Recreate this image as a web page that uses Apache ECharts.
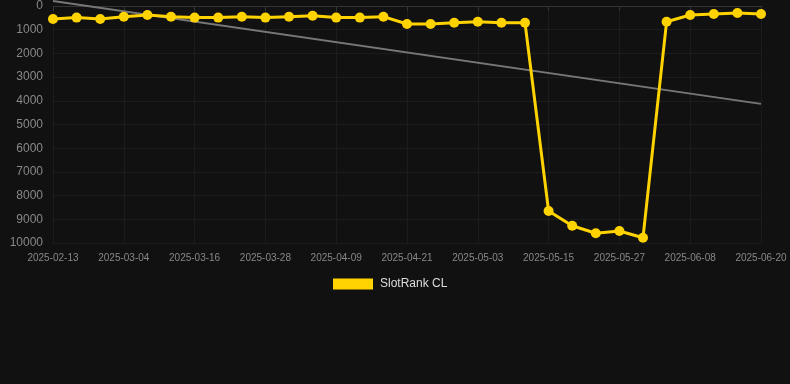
<!DOCTYPE html>
<html>
<head>
<meta charset="utf-8">
<script src="https://cdn.jsdelivr.net/npm/echarts@6/dist/echarts.min.js"></script>
<style>
html,body{margin:0;padding:0;background:#111111;}
#chart{width:790px;height:384px;}
</style>
</head>
<body>
<div id="chart"></div>
<script>
const categories = [
  '2025-02-13','2025-02-20','2025-02-26','2025-03-04','2025-03-08','2025-03-12','2025-03-16',
  '2025-03-20','2025-03-24','2025-03-28','2025-04-01','2025-04-05','2025-04-09','2025-04-13',
  '2025-04-17','2025-04-21','2025-04-25','2025-04-29','2025-05-03','2025-05-07','2025-05-11',
  '2025-05-15','2025-05-19','2025-05-23','2025-05-27','2025-05-31','2025-06-04','2025-06-08',
  '2025-06-12','2025-06-16','2025-06-20'
];
const rankValues = [
  550, 490, 550, 450, 380, 450, 490, 490, 450, 490, 450,
  410, 490, 490, 450, 760, 760, 705, 662, 705, 705,
  8650, 9270, 9590, 9494, 9776,
  662, 380, 338, 295, 338
];
const trendStart = -210;
const trendEnd = 4130;
const trendValues = categories.map((c, i) => i === 0 ? trendStart : (i === categories.length - 1 ? trendEnd : null));
const yTicks = { min: 0, max: 10000, interval: 1000 };

const chart = echarts.init(document.getElementById('chart'));
chart.setOption({
  backgroundColor: '#111111',
  animation: false,
  grid: { left: 53, right: 29, top: 6, bottom: 141 },
  legend: {
    data: ['SlotRank CL'],
    top: 273,
    left: 328,
    itemWidth: 40,
    itemHeight: 11,
    icon: 'rect',
    textStyle: { color: '#dddddd', fontSize: 12, padding: [0, 0, 0, 2], fontFamily: 'Liberation Sans, Arial, sans-serif' }
  },
  xAxis: {
    type: 'category',
    data: categories,
    boundaryGap: false,
    axisLine: { lineStyle: { color: '#333333' } },
    axisTick: { show: true, interval: 2, lineStyle: { color: '#333333' } },
    axisLabel: { interval: 2, color: '#888888', fontSize: 10, margin: 10, fontFamily: 'Liberation Sans, Arial, sans-serif' },
    splitLine: { show: true, interval: 2, lineStyle: { color: '#1c1c1c' } }
  },
  yAxis: {
    type: 'value',
    inverse: true,
    min: yTicks.min,
    max: yTicks.max,
    interval: yTicks.interval,
    axisLine: { show: false },
    axisTick: { show: false },
    axisLabel: { color: '#888888', fontSize: 12, margin: 10, formatter: v => String(v), fontFamily: 'Liberation Sans, Arial, sans-serif' },
    splitLine: { show: true, lineStyle: { color: '#1c1c1c' } }
  },
  series: [
    {
      name: 'Trend',
      type: 'line',
      data: trendValues,
      connectNulls: true,
      showSymbol: false,
      symbol: 'none',
      clip: false,
      lineStyle: { color: '#777777', width: 2 },
      z: 1
    },
    {
      name: 'SlotRank CL',
      type: 'line',
      data: rankValues,
      symbol: 'circle',
      symbolSize: 10,
      itemStyle: { color: '#FFD300' },
      lineStyle: { color: '#FFD300', width: 3 },
      z: 2
    }
  ]
});
</script>
</body>
</html>
